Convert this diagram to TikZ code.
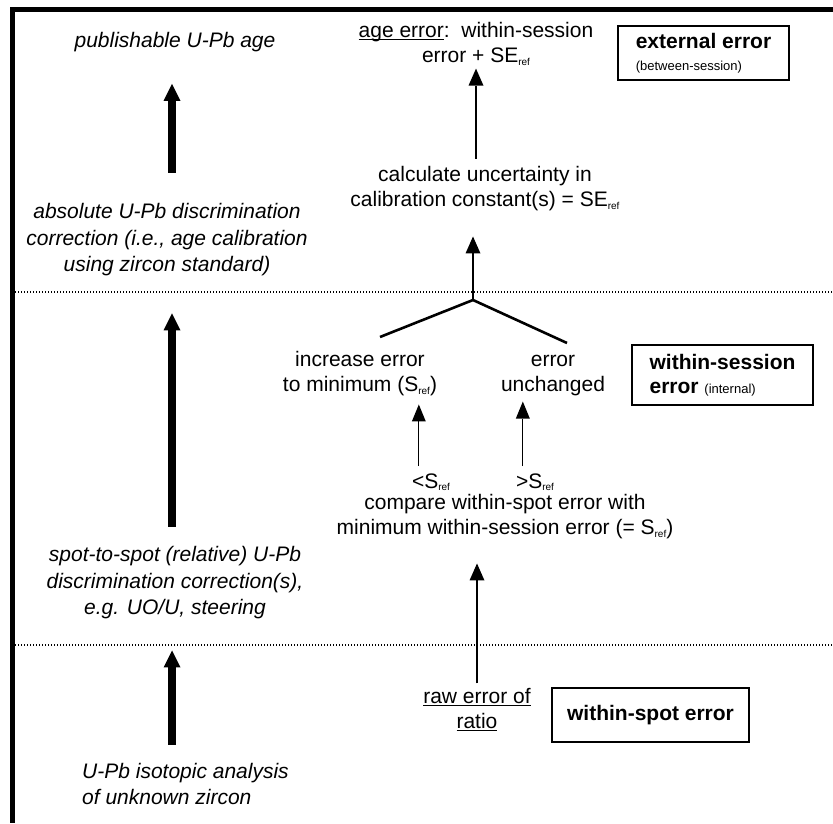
\documentclass[tikz,border=0pt]{standalone}
\usepackage{fontspec}
\setmainfont{Liberation Sans}
\usetikzlibrary{arrows.meta}

\newcommand{\rf}{\raisebox{-2.5pt}{\fontsize{10}{10}\selectfont ref}}
\newcommand{\uln}[1]{\setbox0\hbox{#1}\rlap{\rule[-2.6pt]{\wd0}{1pt}}\box0}

\tikzset{
  txt/.style={align=center, inner sep=3pt, font=\fontsize{21}{25}\selectfont},
  itxt/.style={txt, font=\fontsize{21}{26.5}\selectfont\itshape},
  errbox/.style={draw, line width=2.6pt, align=left, font=\fontsize{21}{25}\selectfont\bfseries},
  bigarr/.style={line width=8pt, -{Triangle[width=17pt,length=17pt,line width=0pt]}},
  arr/.style={line width=2.6pt, -{Triangle[width=15pt,length=17pt,line width=0pt]}},
  thinarr/.style={line width=1.2pt, -{Triangle[width=14pt,length=17pt,line width=0pt]}},
  sep/.style={line width=1.2pt, dash pattern=on 1.2pt off 1.8pt}
}

\begin{document}
\begin{tikzpicture}[x=1pt,y=-1pt]%[show background grid]
    \useasboundingbox (0,0) rectangle (833,823);
    \draw[line width=5pt] (833,9.5) -- (12.5,9.5) -- (12.5,823);
    \draw[sep] (15,292) -- (833,292);
    \draw[sep] (15,645) -- (833,645);

    \node[itxt] (pub) at (175,42) {publishable U-Pb age};
    \node[itxt] (abs) at (167,240) {absolute U-Pb discrimination\\correction (i.e., age calibration\\using zircon standard)};
    \node[itxt] (spot) at (175,583) {spot-to-spot (relative) U-Pb\\discrimination correction(s),\\e.g. UO/U, steering};
    \node[itxt, align=left, anchor=west] (anal) at (79,784) {U-Pb isotopic analysis\\of unknown zircon};

    \coordinate (lcol) at (172,0);
    \draw[bigarr, shorten <=28pt, shorten >=29pt] (abs.north -| lcol) -- (pub.south -| lcol);
    \draw[bigarr, shorten <=17pt, shorten >=34pt] (spot.north -| lcol) -- (abs.south -| lcol);
    \draw[bigarr, shorten <=15pt, shorten >=28pt] (anal.north -| lcol) -- (spot.south -| lcol);

    \node[txt] (ageerr) at (476,44) {\uln{age error}:\ \ within-session\\error + SE\rf};
    \node[errbox, minimum width=171pt, minimum height=54pt] (ext) at (703.5,53)
      {external error\\[-3pt]{\mdseries\fontsize{13}{15}\selectfont (between-session)}};

    \node[txt] (calc) at (485,189) {calculate uncertainty in\\calibration constant(s) = SE\rf};
    \draw[arr, shorten <=5pt] (calc.north -| ageerr) -- (ageerr.south);

    \coordinate (fork) at (473,300);
    \coordinate (forkl) at (380,337);
    \coordinate (forkr) at (567,343);
    \draw[line width=2.6pt] (forkl) -- (fork) -- (forkr);
    \draw[arr, shorten >=22pt] (fork) -- (fork |- calc.south);

    \node[txt] (inc) at (360,374) {increase error\\to minimum (S\rf)};
    \node[txt] (unch) at (553,376) {error\\unchanged};
    \node[errbox, minimum width=181pt, minimum height=60pt] (wsess) at (722.5,375)
      {within-session\\[-1pt]error {\mdseries\fontsize{13}{15}\selectfont (internal)}};

    \node[txt] (lt) at (431,482) {<S\rf};
    \node[txt] (gt) at (535,482) {>S\rf};
    \draw[thinarr, shorten <=4pt, shorten >=5pt] ([xshift=10pt]lt.north west) -- ([xshift=10pt]lt.north west |- inc.south);
    \draw[thinarr, shorten <=4pt, shorten >=2pt] ([xshift=10pt]gt.north west) -- ([xshift=10pt]gt.north west |- unch.south);

    \node[txt] (cmp) at (505,517) {compare within-spot error with\\minimum within-session error (= S\rf)};
    \node[txt] (raw) at (477,710) {\uln{raw error of}\\\uln{ratio}};
    \draw[arr, shorten <=2pt, shorten >=21pt] (raw.north) -- (raw.north |- cmp.south);

    \node[errbox, minimum width=197pt, minimum height=54pt] (wspot) at (650.5,715) {within-spot error};

  \end{tikzpicture}
\end{document}
